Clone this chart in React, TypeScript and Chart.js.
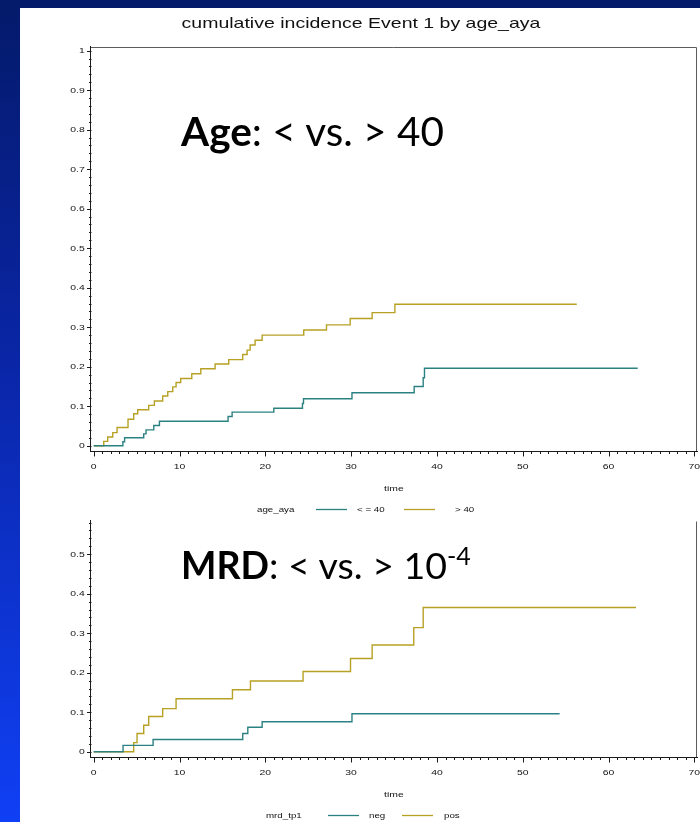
import React, { useEffect, useRef } from "react";
import { Chart, registerables } from "chart.js";

Chart.register(...registerables);

// Cumulative incidence of Event 1, by age group (age_aya)
const ageLowTime = [0, 3.4, 3.6, 5.83, 6.1, 7.0, 7.66, 15.66, 16.13, 20.99, 24.33, 24.45, 30.1, 37.35, 38.4, 38.55, 63.4];
const ageLowCif = [0, 0.01, 0.02, 0.03, 0.04, 0.051, 0.062, 0.074, 0.085, 0.095, 0.107, 0.119, 0.134, 0.15, 0.172, 0.196, 0.196];
const ageHighTime = [0, 1.17, 1.63, 2.22, 2.72, 4.0, 4.66, 5.13, 6.41, 7.07, 8.04, 8.63, 9.21, 9.6, 10.14, 11.43, 12.48, 14.15, 15.74, 17.37, 17.88, 18.23, 18.81, 19.63, 24.48, 27.13, 29.89, 32.45, 35.1, 56.3];
const ageHighCif = [0, 0.011, 0.022, 0.033, 0.046, 0.067, 0.081, 0.091, 0.102, 0.113, 0.126, 0.137, 0.149, 0.16, 0.17, 0.182, 0.195, 0.207, 0.218, 0.231, 0.242, 0.255, 0.267, 0.28, 0.293, 0.306, 0.322, 0.337, 0.358, 0.358];

// Cumulative incidence by MRD status at tp1 (mrd_tp1)
const mrdNegTime = [0, 3.42, 6.92, 17.37, 17.96, 19.63, 30.1, 54.3];
const mrdNegCif = [0, 0.016, 0.031, 0.046, 0.062, 0.076, 0.096, 0.096];
const mrdPosTime = [0, 4.66, 5.05, 5.83, 6.41, 8.04, 9.6, 16.17, 18.27, 24.4, 29.93, 32.45, 37.3, 38.4, 63.2];
const mrdPosCif = [0, 0.023, 0.046, 0.067, 0.089, 0.109, 0.134, 0.157, 0.179, 0.203, 0.236, 0.27, 0.314, 0.365, 0.365];

// Axis ticks
const xTickValues = [0, 10, 20, 30, 40, 50, 60, 70];
const xTickLabels = ["0", "10", "20", "30", "40", "50", "60", "70"];
const yTickValuesTop = [0, 0.1, 0.2, 0.3, 0.4, 0.5, 0.6, 0.7, 0.8, 0.9, 1];
const yTickLabelsTop = ["0", "0.1", "0.2", "0.3", "0.4", "0.5", "0.6", "0.7", "0.8", "0.9", "1"];
const yTickValuesBottom = [0, 0.1, 0.2, 0.3, 0.4, 0.5];
const yTickLabelsBottom = ["0", "0.1", "0.2", "0.3", "0.4", "0.5"];

// Legend text
const ageLegendTitle = "age_aya";
const ageLegendLabels = ["< = 40", "> 40"];
const mrdLegendTitle = "mrd_tp1";
const mrdLegendLabels = ["neg", "pos"];

const chartTitle = "cumulative incidence Event 1 by age_aya";
const xAxisTitle = "time";

const TEAL = "#2b8182";
const GOLD = "#b7a124";
const AXIS = "#1a1a1a";
const FRAME = "#5c5c5c";
const SAS_FONT = '"Liberation Sans", Arial, Helvetica, sans-serif';
const STRETCH = 1.3;

function sasText(
  ctx: CanvasRenderingContext2D,
  text: string,
  x: number,
  y: number,
  size: number,
  align: CanvasTextAlign,
  color = "#111"
) {
  ctx.save();
  ctx.font = `${size}px ${SAS_FONT}`;
  ctx.fillStyle = color;
  ctx.textBaseline = "middle";
  ctx.textAlign = align;
  ctx.translate(x, y);
  ctx.scale(STRETCH, 1);
  ctx.fillText(text, 0, 0);
  ctx.restore();
}

type LegendLayout = {
  titleX: number;
  lines: [number, number][];
  labelX: number[];
};

type DecorOptions = {
  title?: string;
  frameTop: boolean;
  yTickValues: number[];
  yTickLabels: string[];
  yMinorTop: number;
  legendTitle: string;
  legendLabels: string[];
  legendColors: string[];
  legend: LegendLayout;
};

const sasDecor = {
  id: "sasDecor",
  afterDraw(chart: any, _args: any, opts: DecorOptions) {
    const { ctx, chartArea: a, scales } = chart;
    const x = scales.x;
    const y = scales.y;
    ctx.save();
    ctx.lineWidth = 1;

    // frame: right edge (and top edge on the upper panel)
    ctx.strokeStyle = FRAME;
    ctx.beginPath();
    const rx = Math.round(a.right) - 0.5;
    const ty = Math.round(a.top) + 0.5;
    if (opts.frameTop) {
      ctx.moveTo(Math.round(a.left), ty);
      ctx.lineTo(rx, ty);
    }
    ctx.moveTo(rx, ty);
    ctx.lineTo(rx, Math.round(a.bottom));
    ctx.stroke();

    // y ticks: majors every 0.1, minors every 0.02
    ctx.strokeStyle = AXIS;
    ctx.beginPath();
    const lx = Math.round(a.left) + 0.5;
    for (let k = 0; k * 0.02 <= opts.yMinorTop + 1e-9; k++) {
      const py = Math.round(y.getPixelForValue(k * 0.02)) + 0.5;
      const len = k % 5 === 0 ? 4.5 : 2.5;
      ctx.moveTo(lx - len, py);
      ctx.lineTo(lx, py);
    }
    // x ticks: majors every 10, minors every 1
    const by = Math.round(a.bottom) + 0.5;
    for (let t = 0; t <= 70; t++) {
      const px = Math.round(x.getPixelForValue(t)) + 0.5;
      const len = t % 10 === 0 ? 5 : 2.5;
      ctx.moveTo(px, by);
      ctx.lineTo(px, by + len);
    }
    ctx.stroke();

    // tick labels
    opts.yTickValues.forEach((v, i) => {
      sasText(ctx, opts.yTickLabels[i], a.left - 6, y.getPixelForValue(v) + 0.5, 8, "right");
    });
    xTickValues.forEach((v, i) => {
      sasText(ctx, xTickLabels[i], x.getPixelForValue(v), a.bottom + 15.5, 8, "center");
    });

    // axis title
    sasText(ctx, xAxisTitle, (a.left + a.right) / 2, a.bottom + 37.5, 8, "center");

    // legend
    const ly = a.bottom + 59;
    sasText(ctx, opts.legendTitle, opts.legend.titleX, ly, 7.5, "left");
    opts.legendLabels.forEach((lab, i) => {
      const [x0, x1] = opts.legend.lines[i];
      ctx.strokeStyle = opts.legendColors[i];
      ctx.lineWidth = 1.3;
      ctx.beginPath();
      ctx.moveTo(x0, Math.round(ly) - 0.5);
      ctx.lineTo(x1, Math.round(ly) - 0.5);
      ctx.stroke();
      sasText(ctx, lab, opts.legend.labelX[i], ly, 7.5, "left");
    });

    // chart title
    if (opts.title) {
      sasText(ctx, opts.title, 361, 24, 15, "center", "#111");
    }
    ctx.restore();
  },
};

function series(times: number[], cif: number[]) {
  return times.map((t, i) => ({ x: t, y: cif[i] }));
}

function makeConfig(p: {
  datasets: { label: string; times: number[]; cif: number[]; color: string }[];
  yMax: number;
  padTop: number;
  xHeight: number;
  decor: DecorOptions;
}): any {
  return {
    type: "line",
    data: {
      datasets: p.datasets.map((d) => ({
        label: d.label,
        data: series(d.times, d.cif),
        borderColor: d.color,
        borderWidth: 1.4,
        stepped: "before",
        pointRadius: 0,
        fill: false,
      })),
    },
    options: {
      responsive: false,
      animation: false,
      events: [],
      layout: { padding: { left: 0, right: 3, top: p.padTop, bottom: 0 } },
      plugins: {
        legend: { display: false },
        title: { display: false },
        tooltip: { enabled: false },
        sasDecor: p.decor,
      },
      scales: {
        x: {
          type: "linear",
          min: -0.35,
          max: 70.31,
          grid: { display: false, drawTicks: false },
          border: { display: true, color: AXIS, width: 1 },
          ticks: { display: false },
          afterFit: (s: any) => {
            s.height = p.xHeight;
          },
        },
        y: {
          type: "linear",
          min: -0.0134,
          max: p.yMax,
          grid: { display: false, drawTicks: false },
          border: { display: true, color: AXIS, width: 1 },
          ticks: { display: false },
          afterFit: (s: any) => {
            s.width = 90.7;
          },
        },
      },
    },
    plugins: [sasDecor],
  };
}

export default function App() {
  const topRef = useRef<HTMLCanvasElement>(null);
  const bottomRef = useRef<HTMLCanvasElement>(null);

  useEffect(() => {
    const top = new Chart(
      topRef.current!,
      makeConfig({
        datasets: [
          { label: ageLegendLabels[0], times: ageLowTime, cif: ageLowCif, color: TEAL },
          { label: ageLegendLabels[1], times: ageHighTime, cif: ageHighCif, color: GOLD },
        ],
        yMax: 1.0101,
        padTop: 46.7,
        xHeight: 67,
        decor: {
          title: chartTitle,
          frameTop: true,
          yTickValues: yTickValuesTop,
          yTickLabels: yTickLabelsTop,
          yMinorTop: 1,
          legendTitle: ageLegendTitle,
          legendLabels: ageLegendLabels,
          legendColors: [TEAL, GOLD],
          legend: { titleX: 257, lines: [[316, 347], [404, 435]], labelX: [357, 455] },
        },
      })
    );
    const bottom = new Chart(
      bottomRef.current!,
      makeConfig({
        datasets: [
          { label: mrdLegendLabels[0], times: mrdNegTime, cif: mrdNegCif, color: TEAL },
          { label: mrdLegendLabels[1], times: mrdPosTime, cif: mrdPosCif, color: GOLD },
        ],
        yMax: 0.5848,
        padTop: 2.7,
        xHeight: 65,
        decor: {
          frameTop: false,
          yTickValues: yTickValuesBottom,
          yTickLabels: yTickLabelsBottom,
          yMinorTop: 0.58,
          legendTitle: mrdLegendTitle,
          legendLabels: mrdLegendLabels,
          legendColors: [TEAL, GOLD],
          legend: { titleX: 266, lines: [[328, 359], [402, 433]], labelX: [369, 444] },
        },
      })
    );
    return () => {
      top.destroy();
      bottom.destroy();
    };
  }, []);

  const bigText: React.CSSProperties = {
    position: "absolute",
    left: 181,
    fontFamily: "Lato, Carlito, Calibri, sans-serif",
    color: "#000",
    whiteSpace: "nowrap",
  };

  return (
    <div
      style={{
        position: "absolute",
        left: 0,
        top: 0,
        width: 700,
        height: 822,
        overflow: "hidden",
        background: "linear-gradient(to bottom, #041a6a 0%, #0a26a8 45%, #1040f5 100%)",
      }}
    >
      <div style={{ position: "absolute", left: 20, top: 8, width: 680, height: 814, background: "#fff" }} />
      <canvas ref={topRef} width={700} height={518} style={{ position: "absolute", left: 0, top: 0 }} />
      <canvas ref={bottomRef} width={700} height={304} style={{ position: "absolute", left: 0, top: 518 }} />
      <div style={{ ...bigText, top: 110, fontSize: 40.5, lineHeight: "41px" }}>
        <b>Age</b>: &lt; vs. &gt; 40
      </div>
      <div style={{ ...bigText, top: 546, fontSize: 37.5, lineHeight: "38px" }}>
        <b>MRD</b>: &lt; vs. &gt; 10
        <span style={{ fontSize: 25, position: "relative", top: -14 }}>-4</span>
      </div>
    </div>
  );
}
